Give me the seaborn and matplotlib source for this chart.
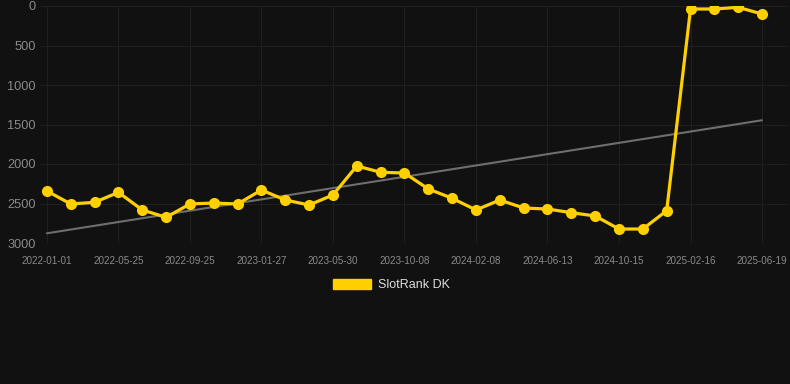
import numpy as np
import pandas as pd
import matplotlib
matplotlib.use("Agg")
import matplotlib.pyplot as plt
import seaborn as sns
from matplotlib.patches import Patch

# rank values (lower = better, axis inverted)
ranks = [2342, 2506, 2485, 2359, 2582, 2675, 2506, 2494, 2506, 2329,
         2456, 2519, 2392, 2025, 2105, 2114, 2316, 2434, 2582, 2456,
         2557, 2570, 2616, 2658, 2823, 2823, 2591, 38, 38, 17, 101]
tick_labels = ["2022-01-01", "2022-05-25", "2022-09-25", "2023-01-27",
               "2023-05-30", "2023-10-08", "2024-02-08", "2024-06-13",
               "2024-10-15", "2025-02-16", "2025-06-19"]
y_ticks = [0, 500, 1000, 1500, 2000, 2500, 3000]
series_name = "SlotRank DK"

bg = "#111111"
yellow = "#FFD000"

df = pd.DataFrame({"idx": np.arange(len(ranks)), "rank": ranks})

# linear trend through the points
slope, intercept = np.polyfit(df["idx"], df["rank"], 1)
df["trend"] = slope * df["idx"] + intercept

sns.set_theme(style="dark")
plt.rcParams["font.family"] = ["Liberation Sans", "DejaVu Sans"]
fig = plt.figure(figsize=(7.9, 3.84), dpi=100, facecolor=bg)
ax = fig.add_axes([40 / 790, 1 - 243 / 384, 748 / 790, 237 / 384])
ax.set_facecolor(bg)

sns.lineplot(data=df, x="idx", y="trend", ax=ax, color="#6e6e6e", linewidth=1.5)
sns.lineplot(data=df, x="idx", y="rank", ax=ax, color=yellow, linewidth=2.3,
             marker="o", markersize=8, markeredgewidth=0, markeredgecolor=yellow)

ax.set_ylim(3000, 0)
ax.set_xlim(-0.29, 31.09)
ax.set_yticks(y_ticks)
ax.set_yticklabels([str(t) for t in y_ticks])
ax.set_xticks(np.arange(0, len(ranks), 3))
ax.set_xticklabels(tick_labels)

ax.grid(True, color="#1f1f1f", linewidth=0.75)
ax.set_axisbelow(True)
for s in ax.spines.values():
    s.set_visible(False)
ax.tick_params(axis="y", colors="#8a8a8a", labelsize=9.2, length=0, pad=3)
ax.tick_params(axis="x", colors="#8a8a8a", labelsize=7.1, length=0, pad=9)
ax.set_xlabel("")
ax.set_ylabel("")

handles = [Patch(facecolor=yellow, edgecolor=yellow)]
fig.legend(handles, [series_name], loc="center", bbox_to_anchor=(391 / 790, 1 - 285 / 384),
           frameon=False, fontsize=9, labelcolor="#dddddd",
           handlelength=3.1, handleheight=0.8, handletextpad=0.5)

fig.savefig("out.png", dpi=100, facecolor=bg)
